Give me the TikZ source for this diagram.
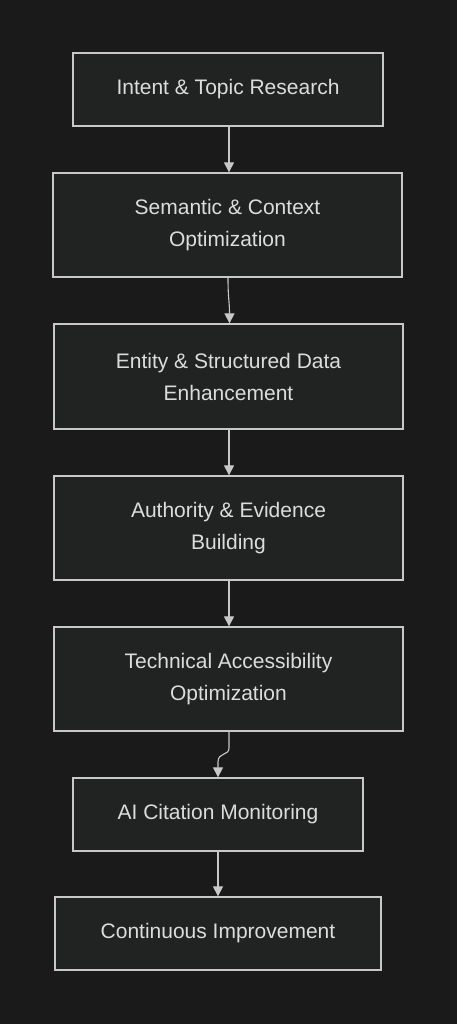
\documentclass[tikz,border=0pt]{standalone}
\usepackage{fontspec}
\setmainfont{Liberation Sans}
\usetikzlibrary{arrows.meta}
\definecolor{bgdark}{HTML}{1A1A1A}
\definecolor{boxfill}{HTML}{212323}
\definecolor{boxline}{HTML}{C8C8C8}
\definecolor{boxtext}{HTML}{DCDCDC}
\tikzset{
  stage/.style={draw=boxline, fill=boxfill, line width=1.3pt, text=boxtext,
    align=center, font=\fontsize{21}{32}\selectfont, inner sep=0pt},
  flow/.style={draw=boxline, line width=1.1pt, -{Triangle[width=10pt,length=10pt]}}
}
\begin{document}
\begin{tikzpicture}[x=1pt,y=-1pt]
\fill[bgdark] (0,0) rectangle (457,1024);
\useasboundingbox (0,0) rectangle (457,1024);
\node[stage, minimum width=310pt, minimum height=73pt] (intent) at (228,89.5) {Intent \& Topic Research};
\node[stage, minimum width=349pt, minimum height=104pt] (semantic) at (227.5,225) {Semantic \& Context\\Optimization};
\node[stage, minimum width=349pt, minimum height=105pt] (entity) at (228.5,376.5) {Entity \& Structured Data\\Enhancement};
\node[stage, minimum width=349pt, minimum height=104pt] (authority) at (228.5,528) {Authority \& Evidence\\Building};
\node[stage, minimum width=349pt, minimum height=104pt] (technical) at (228.5,679) {Technical Accessibility\\Optimization};
\node[stage, minimum width=290pt, minimum height=73pt] (monitor) at (218,814.5) {AI Citation Monitoring};
\node[stage, minimum width=326pt, minimum height=73pt] (improve) at (218,933.5) {Continuous Improvement};

\draw[flow] (intent.south -| 229,0) -- (semantic.north -| 229,0);
\draw[flow] (semantic.south -| 228,0) .. controls (228,300) and (229.5,300) .. (entity.north -| 229.5,0);
\draw[flow] (entity.south -| 229,0) -- (authority.north -| 229,0);
\draw[flow] (authority.south -| 229,0) -- (technical.north -| 229,0);
\draw[flow] (technical.south -| 229,0) -- (229,748) .. controls (229,756) and (218,752) .. (218,762) -- (monitor.north -| 218,0);
\draw[flow] (monitor) -- (improve);
\end{tikzpicture}
\end{document}
